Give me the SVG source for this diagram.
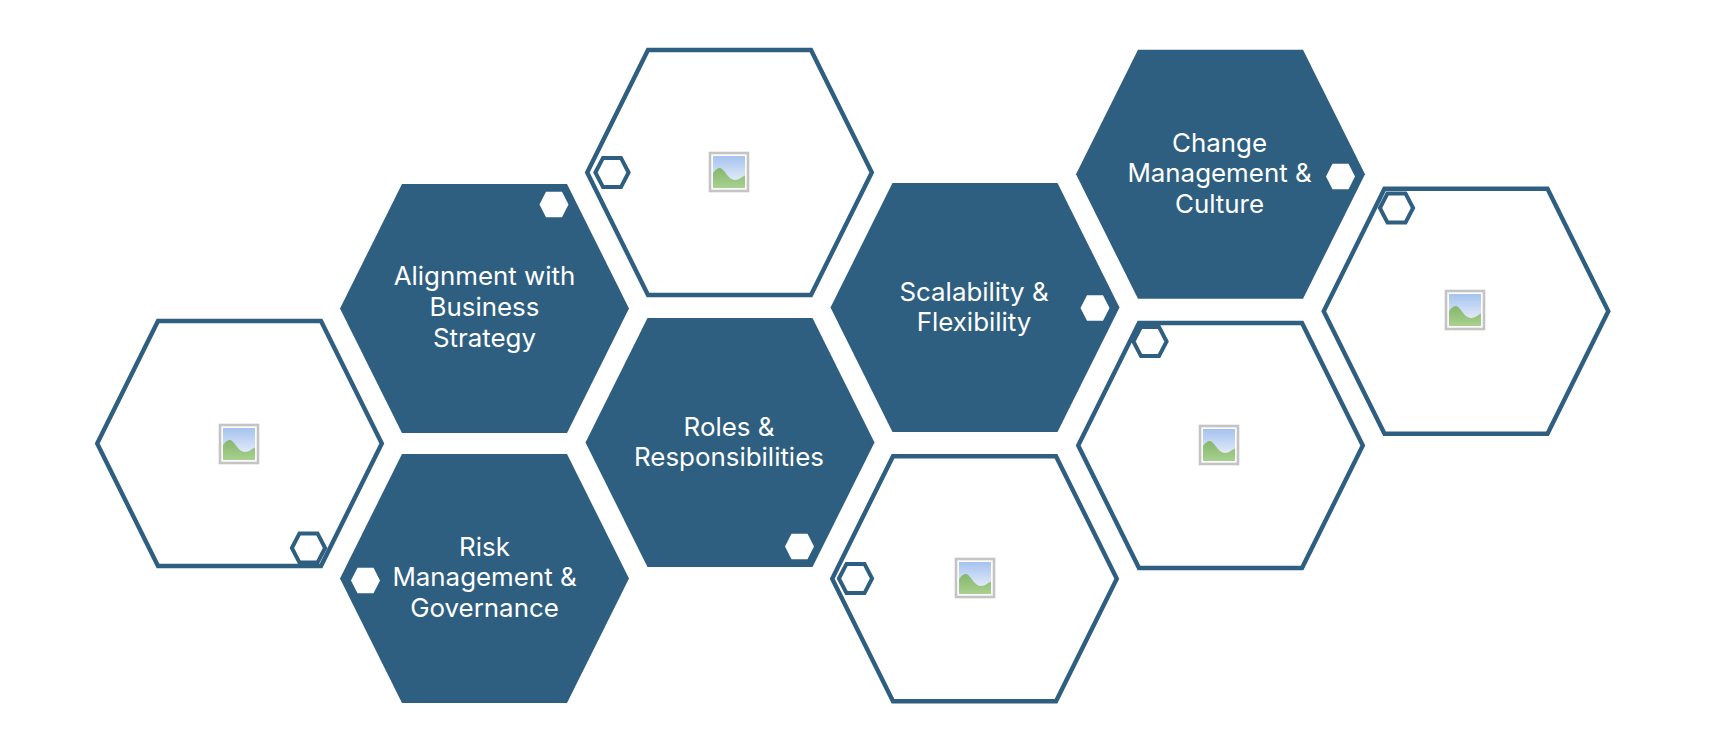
<svg xmlns="http://www.w3.org/2000/svg" width="1724" height="754" viewBox="0 0 1724 754">
<style>
.solid{fill:#2f5f80}
.frame{fill:#fff;stroke:#2f5f80;stroke-width:4.4;stroke-miterlimit:10}
.dot{fill:#fff}
.ring{fill:#fff;stroke:#2f5f80;stroke-width:4;stroke-miterlimit:10}
.t{font-family:"Inter","Liberation Sans",sans-serif;font-size:25.9px;fill:#fff;text-anchor:middle}
</style>
<defs>
<linearGradient id="sky" x1="0" y1="0" x2="0" y2="1"><stop offset="0" stop-color="#a5c2ee"/><stop offset="1" stop-color="#f4f7fc"/></linearGradient>
<linearGradient id="hill" x1="0" y1="0" x2="0" y2="1"><stop offset="0" stop-color="#85b66c"/><stop offset="1" stop-color="#a8d18f"/></linearGradient>
<polygon id="big" points="-144.5,0 -82.5,-124.5 82.5,-124.5 144.5,0 82.5,124.5 -82.5,124.5"/>
<polygon id="out" points="-142.3,0 -81.5,-122.5 81.5,-122.5 142.3,0 81.5,122.5 -81.5,122.5"/>
<polygon id="small" points="-14.5,0 -8,-12.8 8,-12.8 14.5,0 8,12.8 -8,12.8"/>
<polygon id="ringp" points="-16.6,0 -9,-14.6 9,-14.6 16.6,0 9,14.6 -9,14.6"/>
<g id="pic">
<rect x="-19" y="-19" width="38" height="38" fill="#fff" stroke="#c4c4c4" stroke-width="2.6"/>
<rect x="-16" y="-16" width="32" height="32" fill="url(#sky)"/>
<path d="M-16,16V1C-13,-3-11,-4-9,-4C-5,-4-1,8,6,8C10,8 13,5 16,3.5V16Z" fill="url(#hill)"/>
</g>
</defs>
<rect width="1724" height="754" fill="#fff"/>
<g id="connectors"/>
<g id="node-picture-left"><use href="#out" class="frame" x="239.5" y="443.5"/><use href="#pic" x="239" y="444"/><use href="#ringp" class="ring" x="308.5" y="548"/></g>
<g id="node-alignment"><use href="#big" class="solid" x="484.5" y="308.5"/><use href="#small" class="dot" x="554" y="204.5"/><text class="t" x="484.5" y="285">Alignment with</text><text class="t" x="484.5" y="315.5">Business</text><text class="t" x="484.5" y="347">Strategy</text></g>
<g id="node-risk"><use href="#big" class="solid" x="484.5" y="578.5"/><use href="#small" class="dot" x="365.5" y="580.5"/><text class="t" x="484.5" y="555.5">Risk</text><text class="t" x="484.5" y="586">Management &amp;</text><text class="t" x="484.5" y="617">Governance</text></g>
<g id="node-picture-top"><use href="#out" class="frame" x="729.5" y="172.5"/><use href="#pic" x="729" y="172"/><use href="#ringp" class="ring" x="612" y="172.5"/></g>
<g id="node-roles"><use href="#big" class="solid" x="730" y="442.5"/><use href="#small" class="dot" x="799.5" y="546.5"/><text class="t" x="729" y="435.5">Roles &amp;</text><text class="t" x="729" y="466">Responsibilities</text></g>
<g id="node-scalability"><use href="#big" class="solid" x="975" y="307.5"/><use href="#small" class="dot" x="1095" y="308"/><text class="t" x="974" y="300.5">Scalability &amp;</text><text class="t" x="974" y="331">Flexibility</text></g>
<g id="node-picture-bottom"><use href="#out" class="frame" x="974.5" y="578.7"/><use href="#pic" x="975" y="578"/><use href="#ringp" class="ring" x="855.5" y="578.5"/></g>
<g id="node-change"><use href="#big" class="solid" x="1220.5" y="174.3"/><use href="#small" class="dot" x="1340.5" y="176.5"/><text class="t" x="1219.5" y="151.5">Change</text><text class="t" x="1219.5" y="182">Management &amp;</text><text class="t" x="1219.5" y="213">Culture</text></g>
<g id="node-picture-mid"><use href="#out" class="frame" x="1220.5" y="445.5"/><use href="#pic" x="1219" y="445"/><use href="#ringp" class="ring" x="1150" y="341.5"/></g>
<g id="node-picture-right"><use href="#out" class="frame" x="1466" y="311.3"/><use href="#pic" x="1465" y="310"/><use href="#ringp" class="ring" x="1396.5" y="208"/></g>
</svg>
